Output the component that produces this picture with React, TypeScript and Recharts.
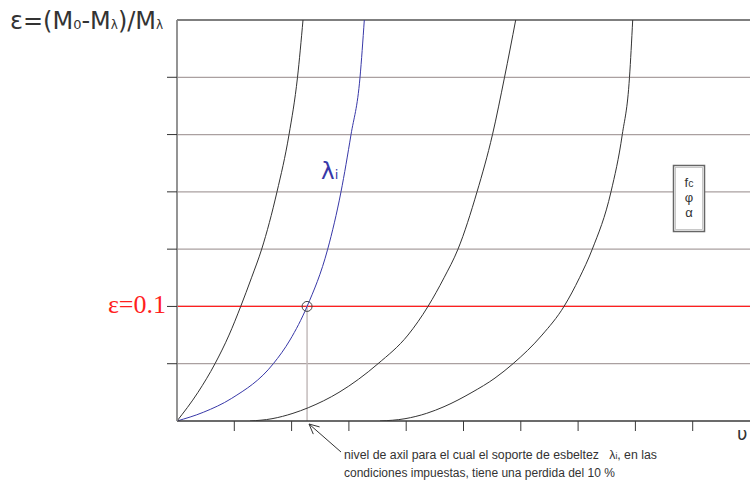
import React from 'react';
import {
  LineChart,
  Line,
  XAxis,
  YAxis,
  CartesianGrid,
  ReferenceLine,
  ReferenceDot,
} from 'recharts';

// Axial level (ν) against moment loss ε = (M0 - Mλ)/Mλ for four slenderness curves
const curveA_nu = [0, 0.366, 0.663, 0.908, 1.112, 1.3, 1.478, 1.745, 1.955, 2.103, 2.199];
const curveA_eps = [0, 0.025, 0.05, 0.075, 0.1, 0.125, 0.15, 0.2, 0.25, 0.3, 0.35];

const curveLambda_nu = [0, 0.459, 0.955, 1.681, 1.972, 2.27, 2.63, 2.862, 3.037, 3.194, 3.269];
const curveLambda_eps = [0, 0.0076, 0.0198, 0.05, 0.0707, 0.1, 0.15, 0.2, 0.25, 0.3, 0.35];

const curveC_nu = [1.274, 1.658, 2.024, 2.291, 2.827, 3.508, 4.031, 4.38, 4.66, 4.904, 5.236, 5.506, 5.716, 5.911];
const curveC_eps = [0, 0.002, 0.0067, 0.0116, 0.025, 0.05, 0.075, 0.1, 0.125, 0.15, 0.2, 0.25, 0.3, 0.35];

const curveD_nu = [3.543, 3.979, 4.358, 4.66, 5.148, 5.55, 5.864, 6.37, 6.754, 7.024, 7.248, 7.574, 7.771, 7.897, 7.953];
const curveD_eps = [0, 0.002, 0.0067, 0.0125, 0.025, 0.0375, 0.05, 0.075, 0.1, 0.125, 0.15, 0.2, 0.25, 0.3, 0.35];

const xTicks = [1, 2, 3, 4, 5, 6, 7, 8, 9];
const yTicks = [0.05, 0.1, 0.15, 0.2, 0.25, 0.3];

const epsLimit = 0.1;
const nuAtLimit = 2.27;

const toPoints = (nu: number[], eps: number[]) => nu.map((v, i) => ({ nu: v, eps: eps[i] }));

const curveA = toPoints(curveA_nu, curveA_eps);
const curveLambda = toPoints(curveLambda_nu, curveLambda_eps);
const curveC = toPoints(curveC_nu, curveC_eps);
const curveD = toPoints(curveD_nu, curveD_eps);

const W = 750;
const H = 483;
const WIDE_SANS = '"DejaVu Sans", Verdana, sans-serif';
const SANS = '"Liberation Sans", Arial, sans-serif';
const SERIF = '"Liberation Serif", "Times New Roman", serif';

const NoLabel = () => <g />;

// open arrowhead pointing at (tx, ty) from (fx, fy)
function arrowHead(fx: number, fy: number, tx: number, ty: number, len: number, spread: number) {
  const a = Math.atan2(fy - ty, fx - tx);
  const p1 = [tx + len * Math.cos(a - spread), ty + len * Math.sin(a - spread)];
  const p2 = [tx + len * Math.cos(a + spread), ty + len * Math.sin(a + spread)];
  return `M${p1[0]},${p1[1]} L${tx},${ty} L${p2[0]},${p2[1]}`;
}

export default function App() {
  const lineProps = {
    type: 'monotone' as const,
    dataKey: 'eps',
    dot: false,
    activeDot: false,
    isAnimationActive: false,
  };

  return (
    <div style={{ position: 'fixed', left: 0, top: 0, width: W, height: H, background: '#fff' }}>
      <LineChart width={W} height={H} margin={{ top: 20, right: 0, bottom: 32, left: 157 }}>
        <CartesianGrid horizontal vertical={false} stroke="#aaa0a0" strokeWidth={1.3} horizontalValues={yTicks} />
        <XAxis
          dataKey="nu"
          type="number"
          domain={[0, 10]}
          ticks={xTicks}
          allowDataOverflow
          height={30}
          tickSize={10}
          tick={NoLabel}
          axisLine={{ stroke: '#3a3a3a', strokeWidth: 1.5 }}
          tickLine={{ stroke: '#3a3a3a', strokeWidth: 1 }}
        />
        <YAxis
          type="number"
          domain={[0, 0.35]}
          ticks={yTicks}
          allowDataOverflow
          width={20}
          tickSize={10}
          tick={NoLabel}
          axisLine={{ stroke: '#888', strokeWidth: 1.8 }}
          tickLine={{ stroke: '#333', strokeWidth: 1 }}
        />
        <ReferenceLine y={0.35} stroke="#555" strokeWidth={1.6} />
        <ReferenceLine
          y={epsLimit}
          stroke="#ff1f1f"
          strokeWidth={1.3}
          label={(p: any) => (
            <text
              x={p.viewBox.x - 11}
              y={p.viewBox.y + 7}
              textAnchor="end"
              fontFamily={SERIF}
              fontSize={26}
              fill="#ff1f1f"
            >
              ε=0.1
            </text>
          )}
        />
        <ReferenceLine
          segment={[
            { x: nuAtLimit, y: 0 },
            { x: nuAtLimit, y: epsLimit },
          ]}
          stroke="#c4bcbc"
          strokeWidth={1.5}
        />
        <Line {...lineProps} data={curveA} stroke="#333" strokeWidth={1} />
        <Line {...lineProps} data={curveLambda} stroke="#3838a8" strokeWidth={1} />
        <Line {...lineProps} data={curveC} stroke="#333" strokeWidth={1} />
        <Line {...lineProps} data={curveD} stroke="#333" strokeWidth={1} />
        <ReferenceDot x={nuAtLimit} y={epsLimit} r={5} fill="none" stroke="#444" strokeWidth={1} />
      </LineChart>

      <svg
        width={W}
        height={H}
        style={{ position: 'absolute', left: 0, top: 0, pointerEvents: 'none', overflow: 'hidden' }}
      >
        {/* vertical axis title */}
        <text x={10} y={29} fontFamily={WIDE_SANS} fontSize={24} fill="#333">
          ε=(M<tspan fontSize={13}>0</tspan>-M<tspan fontSize={12}>λ</tspan>)/M<tspan fontSize={12}>λ</tspan>
        </text>

        {/* horizontal axis symbol */}
        <text x={737} y={440} fontFamily={WIDE_SANS} fontSize={18} fill="#333">
          υ
        </text>

        {/* slenderness label on the blue curve */}
        <text x={321} y={179} fontFamily={WIDE_SANS} fontSize={23} fill="#3838a8">
          λ<tspan fontSize={13}>i</tspan>
        </text>

        {/* parameters box */}
        <rect x={673.5} y={165.5} width={31} height={66} fill="#fff" stroke="#666" strokeWidth={1.5} />
        <rect x={675.5} y={167.5} width={27} height={62} fill="none" stroke="#bbb" strokeWidth={0.8} />
        <text x={689} y={187} textAnchor="middle" fontFamily={SANS} fontSize={13} fill="#333">
          f<tspan fontSize={10.5}>c</tspan>
        </text>
        <text x={689} y={202} textAnchor="middle" fontFamily={SANS} fontSize={13} fill="#333">
          φ
        </text>
        <text x={689} y={217} textAnchor="middle" fontFamily={SANS} fontSize={13} fill="#333">
          α
        </text>

        {/* annotation arrow and note */}
        <line x1={341} y1={452} x2={309} y2={424} stroke="#333" strokeWidth={1} />
        <path d={arrowHead(341, 452, 309, 424, 11, 0.45)} fill="none" stroke="#333" strokeWidth={1} />
        <text x={344} y={459} fontFamily={SANS} fontSize={12.3} fill="#333">
          {'nivel de axil para el cual el soporte de esbeltez\u00a0\u00a0\u00a0λ'}
          <tspan fontSize={8.5}>i</tspan>, en las
        </text>
        <text x={344} y={477} fontFamily={SANS} fontSize={12} fill="#333">
          condiciones impuestas, tiene una perdida del 10 %
        </text>
      </svg>
    </div>
  );
}
